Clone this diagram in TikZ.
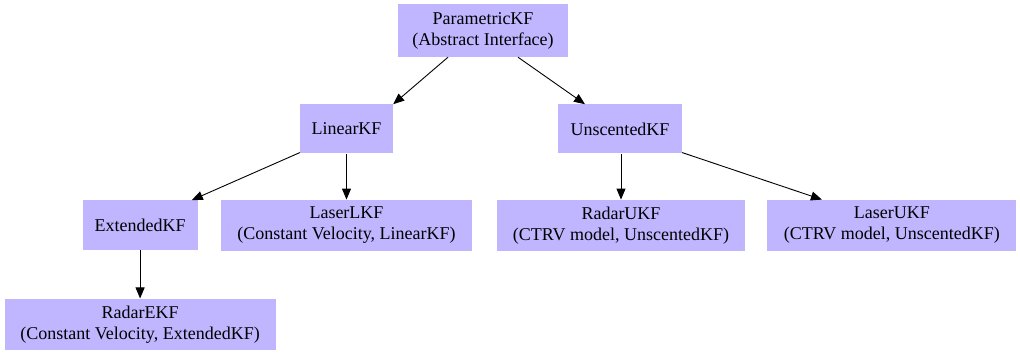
\documentclass[tikz,border=0pt]{standalone}
\usepackage{fontspec}
\setmainfont{Liberation Serif}
\usetikzlibrary{positioning, arrows.meta}
\definecolor{kfblue}{RGB}{192,182,255}

\begin{document}
\begin{tikzpicture}[x=1pt, y=1pt, node distance=46pt, align=center,
    every node/.style={font=\fontsize{18}{21}\selectfont},
    kfbox/.style={rectangle, fill=kfblue, inner sep=0pt, minimum height=51pt},
    kfarrow/.style={-{Triangle[length=11pt, width=9pt]}, line width=0.9pt}]
    \useasboundingbox (0,0) rectangle (1020,-355);
    % Base class
    \node[kfbox, minimum width=170pt, minimum height=53pt] (pkf) at (483,-30.5) {ParametricKF\\ (Abstract Interface)};
    % Intermediate filters
    \node[kfbox, minimum width=93pt, minimum height=49pt, below=47pt of pkf, xshift=-136.5pt] (lkf) {LinearKF};
    \node[kfbox, minimum width=124pt, minimum height=49pt, below=47pt of pkf, xshift=137pt] (ukf) {UnscentedKF};
    % Concrete filters
    \node[kfbox, minimum width=251pt, below=46pt of lkf] (llkf) {LaserLKF\\ (Constant Velocity, LinearKF)};
    \node[kfbox, minimum width=115pt, minimum height=50pt, left=23pt of llkf] (ekf) {ExtendedKF};
    \node[kfbox, minimum width=271pt, below=48pt of ekf] (rekf) {RadarEKF\\ (Constant Velocity, ExtendedKF)};
    \node[kfbox, minimum width=248pt, below=46pt of ukf, xshift=1pt] (rukf) {RadarUKF\\ (CTRV model, UnscentedKF)};
    \node[kfbox, minimum width=249pt, right=22pt of rukf] (lukf) {LaserUKF\\ (CTRV model, UnscentedKF)};
    % Inheritance edges
    \draw[kfarrow] ([xshift=-35pt]pkf.south) -- (lkf.north east);
    \draw[kfarrow] ([xshift=35pt]pkf.south) -- ([xshift=-35pt]ukf.north);
    \draw[kfarrow] ([yshift=1pt]lkf.south west) -- ([xshift=-6pt]ekf.north east);
    \draw[kfarrow] (lkf) -- (llkf);
    \draw[kfarrow] (ekf) -- (rekf);
    \draw[kfarrow] ([xshift=1pt]ukf.south) -- (rukf);
    \draw[kfarrow] ([yshift=1pt]ukf.south east) -- ([xshift=-70pt]lukf.north);
\end{tikzpicture}
\end{document}
